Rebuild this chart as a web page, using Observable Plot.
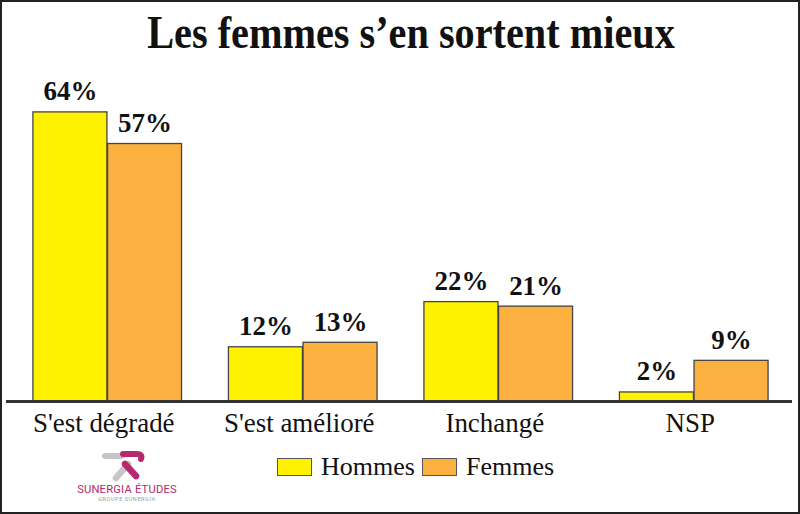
<!DOCTYPE html>
<html><head><meta charset="utf-8">
<script src="https://cdn.jsdelivr.net/npm/d3@7"></script>
<script src="https://cdn.jsdelivr.net/npm/@observablehq/plot@0.6"></script>
<style>
html,body{margin:0;padding:0;background:#fff;}
#wrap{position:relative;width:800px;height:514px;box-sizing:border-box;border:2px solid #222;overflow:hidden;background:#fff;}
#title{position:absolute;left:0;width:800px;top:4px;text-align:center;font-family:"Liberation Serif","Times New Roman",serif;font-weight:bold;font-size:46px;color:#111;transform:scaleX(0.875);transform-origin:400px 0;white-space:nowrap;margin-left:9px;}
#chart{position:absolute;left:-2px;top:-2px;}
.legend{position:absolute;top:450px;font-family:"Liberation Serif","Times New Roman",serif;font-size:26px;color:#111;display:flex;align-items:center;}
.sw{display:inline-block;width:33px;height:16px;border:1px solid #555;margin-right:9px;}
#logo{position:absolute;left:68px;top:443px;}
</style></head>
<body>
<div id="wrap">
  <div id="chart"></div>
  <div id="title">Les femmes s’en sortent mieux</div>
  <div class="legend" style="left:275px"><span class="sw" style="background:#fff200"></span>Hommes</div>
  <div class="legend" style="left:420px"><span class="sw" style="background:#fbb040"></span>Femmes</div>
  <svg id="logo" width="120" height="60" viewBox="0 0 120 60">
    <path d="M35 11 L52 11" stroke="#c6c6c6" stroke-width="6" stroke-linecap="round" fill="none"/>
    <path d="M53 9 L67 9 Q73 9 71 14" stroke="#b8286e" stroke-width="6" stroke-linecap="round" stroke-linejoin="round" fill="none"/>
    <path d="M58 19 L46 33" stroke="#c6c6c6" stroke-width="6.5" stroke-linecap="round" fill="none"/>
    <path d="M55 19 L66 31" stroke="#b8286e" stroke-width="6.5" stroke-linecap="round" fill="none"/>
    <text x="57" y="48" text-anchor="middle" font-family="Roboto, 'DejaVu Sans', sans-serif" font-size="11.2" fill="#b8286e" letter-spacing="0.2">SUNERGIA ÉTUDES</text>
    <text x="57" y="55.5" text-anchor="middle" font-family="Roboto, 'DejaVu Sans', sans-serif" font-size="5.5" fill="#999" letter-spacing="0.6">GROUPE SUNERGIA</text>
  </svg>
</div>
<script>
const categories = ["S'est dégradé", "S'est amélioré", "Inchangé", "NSP"];
const series = ["Hommes", "Femmes"];
const hommes = [64, 12, 22, 2];
const femmes = [57, 13, 21, 9];
const colors = ["#fff200", "#fbb040"];

const rowsH = categories.map((c, i) => ({cat: c, serie: series[0], value: hommes[i]}));
const rowsF = categories.map((c, i) => ({cat: c, serie: series[1], value: femmes[i]}));

const half = 74.8;
const serif = "Liberation Serif, Times New Roman, serif";

const chart = Plot.plot({
  width: 800,
  height: 514,
  marginLeft: 31,
  marginRight: 29,
  marginTop: 85,
  marginBottom: 112,
  style: {fontFamily: serif, fontSize: "27px", color: "#111", background: "transparent", overflow: "visible"},
  x: {domain: categories, paddingInner: 0.24, paddingOuter: 0, axis: null},
  y: {domain: [0, 70], axis: null},
  marks: [
    Plot.barY(rowsH, {x: "cat", y: "value", fill: colors[0], stroke: "#444", strokeWidth: 1.3, insetRight: half}),
    Plot.barY(rowsF, {x: "cat", y: "value", fill: colors[1], stroke: "#444", strokeWidth: 1.3, insetLeft: half}),
    Plot.ruleY([0], {stroke: "#333", strokeWidth: 3, insetLeft: -25, insetRight: -23}),
    Plot.axisX({tickSize: 0, tickPadding: 11, dx: -4, fontSize: 27, label: null, fontFamily: serif, fill: "#111"}),
    Plot.text(rowsH, {x: "cat", y: "value", text: d => d.value + "%", dx: -half/2, dy: -12, lineAnchor: "bottom", fontFamily: serif, fontWeight: "bold", fontSize: 27, fill: "#111"}),
    Plot.text(rowsF, {x: "cat", y: "value", text: d => d.value + "%", dx: half/2, dy: -12, lineAnchor: "bottom", fontFamily: serif, fontWeight: "bold", fontSize: 27, fill: "#111"})
  ]
});
document.getElementById("chart").appendChild(chart);
</script>
</body></html>
